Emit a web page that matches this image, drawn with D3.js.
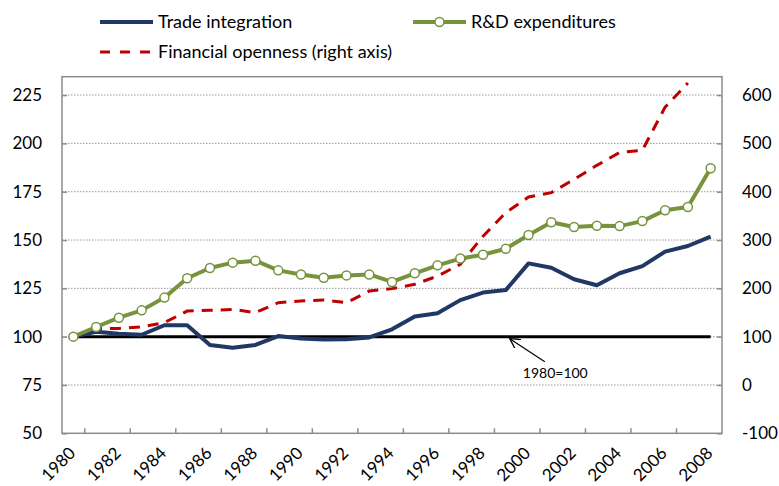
<!DOCTYPE html>
<html>
<head>
<meta charset="utf-8">
<script src="https://cdn.jsdelivr.net/npm/d3@7"></script>
<style>
  body { margin: 0; background: #fff; }
  svg { display: block; font-family: Lato, "Open Sans", sans-serif; }
</style>
</head>
<body>
<svg id="chart" width="779" height="486"></svg>
<script>
// data (1980 = 100)
const years = [1980,1981,1982,1983,1984,1985,1986,1987,1988,1989,1990,1991,1992,1993,1994,
  1995,1996,1997,1998,1999,2000,2001,2002,2003,2004,2005,2006,2007,2008];
const trade = [100,102.5,101.5,101,105.9,105.9,95.7,94.3,95.7,100.3,99,98.5,98.6,99.6,103.8,
  110.4,112.1,118.9,122.8,124.1,137.9,135.7,129.7,126.6,132.8,136.5,144,146.9,151.8];
const rnd = [100,105,109.8,113.6,120.2,130.2,135.5,138.3,139.3,134.3,132.2,130.5,131.7,132.2,128.3,
  132.8,136.9,140.4,142.4,145.5,152.6,159.2,156.7,157.4,157.2,159.8,165.4,167.1,187.1];
// right axis
const finance = [100,117,117,120,129,153,154.4,156.5,149.7,170.4,173.7,175.8,170.4,194.4,199.4,
  208.3,225.4,249.7,308,356.7,389,398,425.6,454.6,481,485.6,575,625,null];
const leftTicks = [50,75,100,125,150,175,200,225];
const rightTicks = [-100,0,100,200,300,400,500,600];
const xLabels = years.filter((d, i) => i % 2 === 0);

const margin = { top: 76.7, right: 57, bottom: 52.7, left: 62 };
const W = 779, H = 486;
const width = W - margin.left - margin.right;
const height = H - margin.top - margin.bottom;

const colTrade = '#1f3864', colRnd = '#77933c', colFin = '#c00000', colAxis = '#8c8c8c';

const svg = d3.select('#chart');
const g = svg.append('g').attr('transform', `translate(${margin.left},${margin.top})`);

const x = d3.scaleBand().domain(years).range([0, width]);
const cx = d => x(d) + x.bandwidth() / 2;
const yL = d3.scaleLinear().domain([50, 234.5]).range([height, 0]);
const yR = d3.scaleLinear().domain([-100, 638]).range([height, 0]);

// gridlines
g.append('g').selectAll('line')
  .data(leftTicks.filter(d => d > 50))
  .enter().append('line')
  .attr('x1', 0).attr('x2', width)
  .attr('y1', d => yL(d)).attr('y2', d => yL(d))
  .attr('stroke', '#999').attr('stroke-width', 1)
  .attr('stroke-dasharray', '1.5,1.5');

// frame
g.append('rect').attr('width', width).attr('height', height)
  .attr('fill', 'none').attr('stroke', colAxis).attr('stroke-width', 1.5);

// left axis
const axL = g.append('g')
  .call(d3.axisLeft(yL).tickValues(leftTicks).tickSize(-5).tickPadding(20).tickFormat(d => String(d)));
axL.select('.domain').remove();
axL.selectAll('line').attr('stroke', colAxis).attr('stroke-width', 1.5);
axL.selectAll('text').attr('font-size', 17).attr('fill', '#000').attr('font-family', 'Lato');

// right axis
const axR = g.append('g').attr('transform', `translate(${width},0)`)
  .call(d3.axisRight(yR).tickValues(rightTicks).tickSize(-5).tickPadding(20).tickFormat(d => String(d)));
axR.select('.domain').remove();
axR.selectAll('line').attr('stroke', colAxis).attr('stroke-width', 1.5);
axR.selectAll('text').attr('font-size', 17).attr('fill', '#000').attr('font-family', 'Lato');

// x axis: ticks at category boundaries every 2 years
g.append('g').selectAll('line')
  .data(years.filter((d, i) => i % 2 === 0 && i > 0))
  .enter().append('line')
  .attr('x1', d => x(d) - x.bandwidth()).attr('x2', d => x(d) - x.bandwidth())
  .attr('y1', height).attr('y2', height - 5)
  .attr('stroke', colAxis).attr('stroke-width', 1.5);

const axX = g.append('g').attr('transform', `translate(0,${height})`)
  .call(d3.axisBottom(x).tickValues(xLabels).tickSize(0).tickFormat(d => String(d)));
axX.select('.domain').remove();
axX.selectAll('text')
  .attr('font-size', 17).attr('fill', '#000').attr('font-family', 'Lato')
  .attr('text-anchor', 'end')
  .attr('dy', 0).attr('y', 0)
  .attr('transform', 'translate(3,21) rotate(-45)');

// 1980 = 100 reference line
g.append('line')
  .attr('x1', cx(years[0])).attr('x2', cx(years[years.length - 1]))
  .attr('y1', yL(100)).attr('y2', yL(100))
  .attr('stroke', '#000').attr('stroke-width', 3);

// series
const lineL = d3.line().x((d, i) => cx(years[i])).y(d => yL(d));
const lineR = d3.line().defined(d => d != null).x((d, i) => cx(years[i])).y(d => yR(d));

g.append('path').datum(finance).attr('d', lineR)
  .attr('fill', 'none').attr('stroke', colFin).attr('stroke-width', 3)
  .attr('stroke-dasharray', '11,8');

g.append('path').datum(trade).attr('d', lineL)
  .attr('fill', 'none').attr('stroke', colTrade).attr('stroke-width', 4)
  .attr('stroke-linejoin', 'round');

g.append('path').datum(rnd).attr('d', lineL)
  .attr('fill', 'none').attr('stroke', colRnd).attr('stroke-width', 4)
  .attr('stroke-linejoin', 'round');

g.append('g').selectAll('circle')
  .data(rnd).enter().append('circle')
  .attr('cx', (d, i) => cx(years[i])).attr('cy', d => yL(d))
  .attr('r', 4.5).attr('fill', '#fff').attr('stroke', colRnd).attr('stroke-width', 1.5);

// annotation
const tipX = cx(1999) + 4, tipY = yL(100) + 2;
svg.append('defs').append('marker')
  .attr('id', 'arr').attr('viewBox', '0 0 10 10').attr('refX', 9).attr('refY', 5)
  .attr('markerWidth', 9).attr('markerHeight', 9).attr('orient', 'auto-start-reverse')
  .append('path').attr('d', 'M0,0 L9,5 L0,10').attr('fill', 'none').attr('stroke', '#000').attr('stroke-width', 1.2);
g.append('line')
  .attr('x1', tipX + 35).attr('y1', tipY + 23)
  .attr('x2', tipX).attr('y2', tipY)
  .attr('stroke', '#000').attr('stroke-width', 1.2)
  .attr('marker-end', 'url(#arr)');
g.append('text')
  .attr('x', tipX + 13).attr('y', tipY + 39)
  .attr('font-size', 14).text('1980=100');

// legend
const legend = svg.append('g').attr('font-size', 18);
const legItems = [
  { name: 'Trade integration', x: 100, y: 22, color: colTrade, w: 4, dash: null, dot: false },
  { name: 'R&D expenditures', x: 413, y: 22, color: colRnd, w: 4, dash: null, dot: true },
  { name: 'Financial openness (right axis)', x: 100, y: 52, color: colFin, w: 3, dash: '10,10', dot: false }
];
legItems.forEach(it => {
  legend.append('line')
    .attr('x1', it.x).attr('x2', it.x + 53).attr('y1', it.y).attr('y2', it.y)
    .attr('stroke', it.color).attr('stroke-width', it.w)
    .attr('stroke-dasharray', it.dash);
  if (it.dot) {
    legend.append('circle').attr('cx', it.x + 26.5).attr('cy', it.y).attr('r', 4.5)
      .attr('fill', '#fff').attr('stroke', it.color).attr('stroke-width', 1.5);
  }
  legend.append('text').attr('x', it.x + 58).attr('y', it.y).attr('dy', '0.36em')
    .attr('fill', '#000').text(it.name);
});
</script>
</body>
</html>
